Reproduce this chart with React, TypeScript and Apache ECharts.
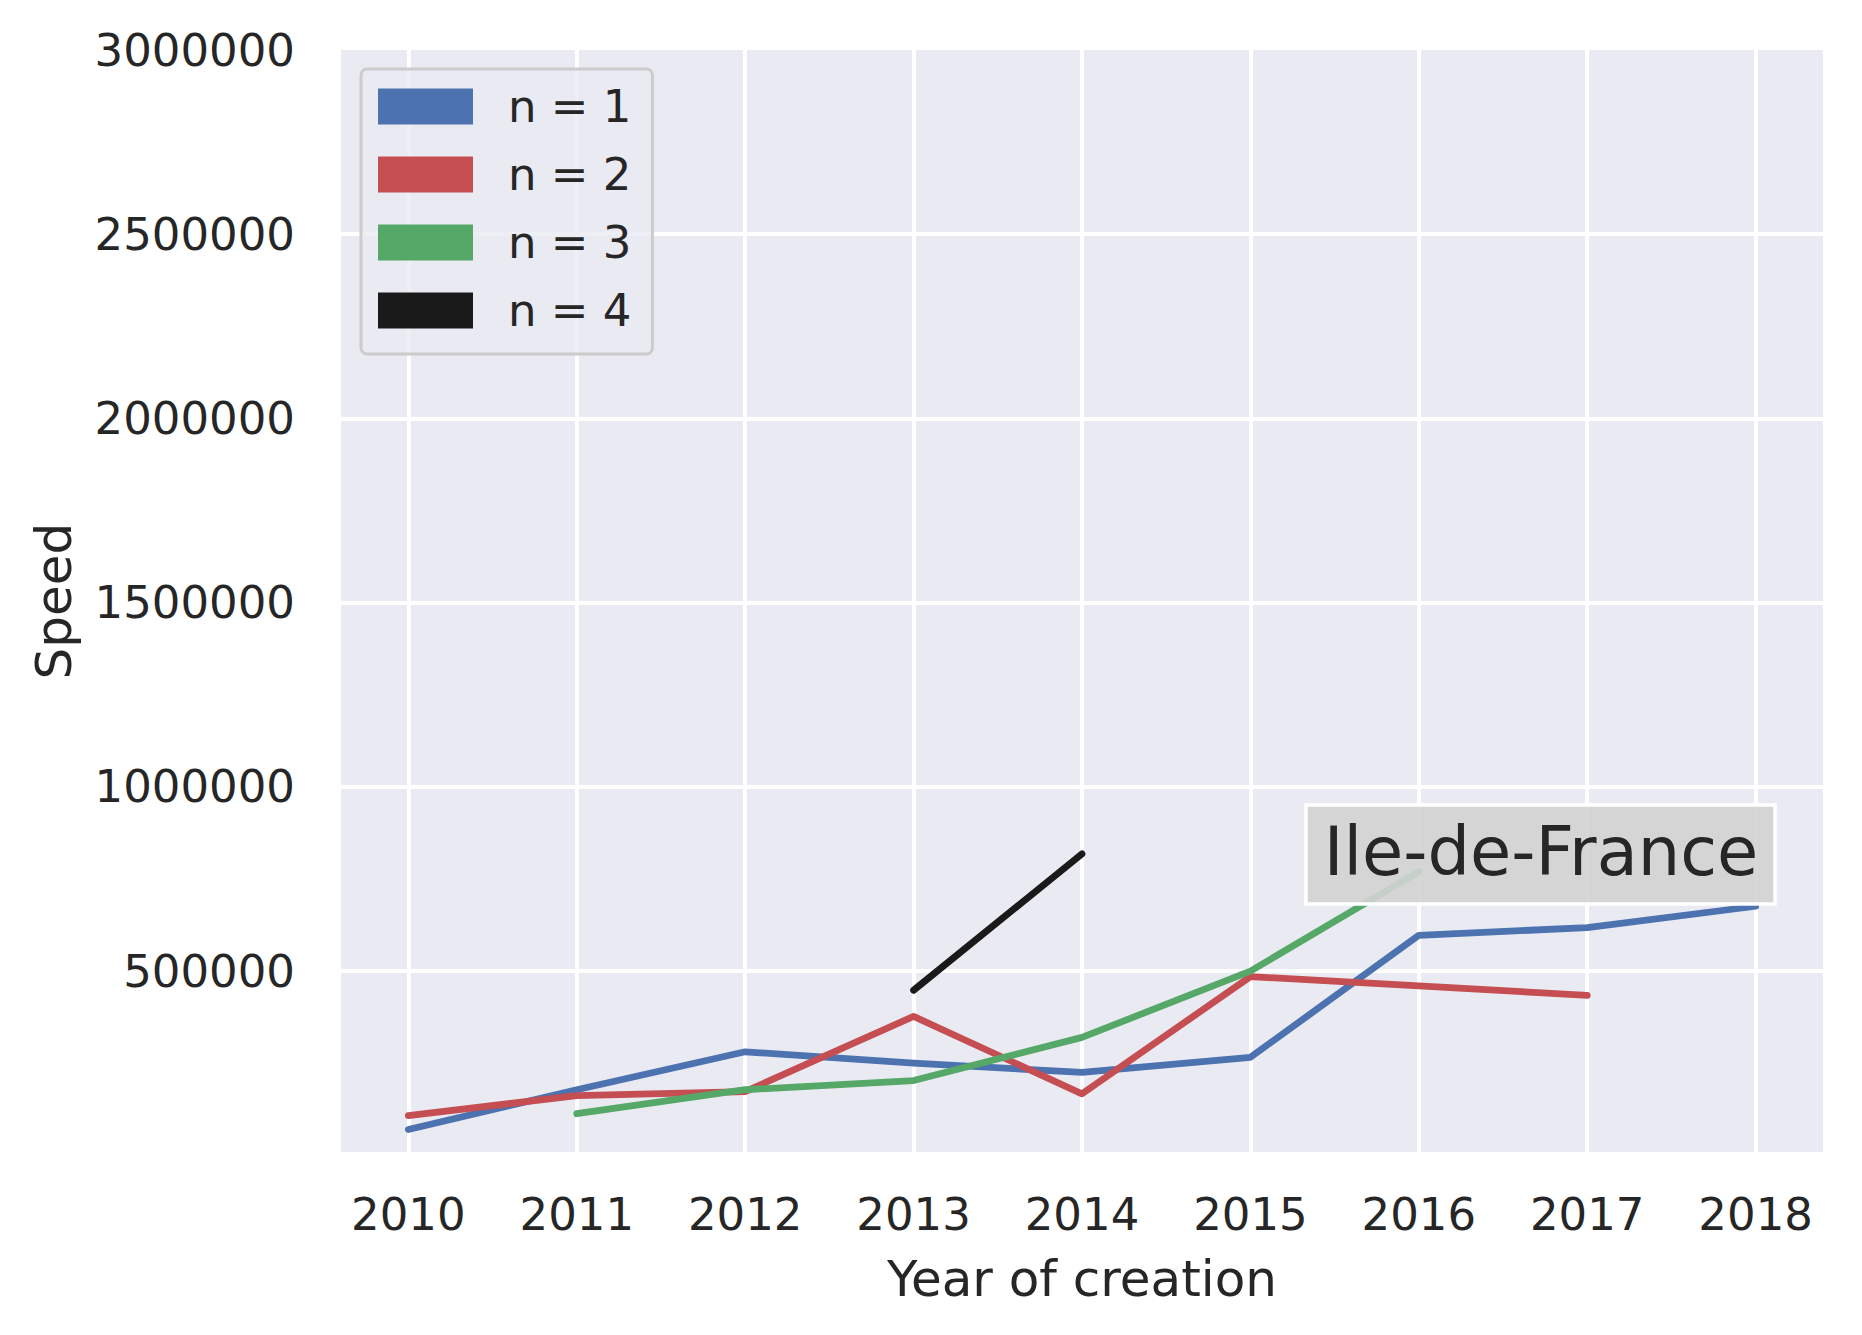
import React, { useEffect, useRef } from "react";
import * as echarts from "echarts";

const years = [2010, 2011, 2012, 2013, 2014, 2015, 2016, 2017, 2018];
const seriesNames = ["n = 1", "n = 2", "n = 3", "n = 4"];
const seriesColors = ["#4C72B0", "#C44E52", "#55A868", "#1A1A1A"];
const speedN1 = [70000, 178000, 281000, 250000, 225000, 266000, 597000, 618000, 676000];
const speedN2 = [108000, 162000, 173000, 377000, 167000, 485000, 460000, 434000, null];
const speedN3 = [null, 113000, 178000, 203000, 320000, 500000, 770000, null, null];
const speedN4 = [null, null, null, 448000, 818000, null, null, null, null];
const annotationText = "Ile-de-France";

const FONT = "DejaVu Sans";
const TEXT = "#262626";

export default function App() {
  const ref = useRef<HTMLDivElement>(null);
  useEffect(() => {
    if (!ref.current) return;
    const chart = echarts.init(ref.current, undefined, { renderer: "svg" });
    const all = [speedN1, speedN2, speedN3, speedN4];
    const series = all.map((vals, i) => ({
      name: seriesNames[i],
      type: "line",
      showSymbol: false,
      symbol: "none",
      color: seriesColors[i],
      itemStyle: { color: seriesColors[i] },
      lineStyle: { color: seriesColors[i], width: 6.8, cap: "round", join: "round" },
      data: years
        .map((y, j) => [y, vals[j]])
        .filter((p) => p[1] !== null),
      z: 2 + i,
    }));
    chart.setOption({
      animation: false,
      backgroundColor: "#ffffff",
      textStyle: { fontFamily: FONT },
      grid: {
        left: 341,
        right: 39,
        top: 50,
        bottom: 183,
        show: true,
        backgroundColor: "#EAEAF2",
        borderWidth: 0,
        containLabel: false,
        outerBoundsMode: "none",
      },
      legend: {
        data: seriesNames.map((n) => ({ name: n, icon: "rect" })),
        orient: "vertical",
        left: 361,
        top: 69,
        padding: [15, 21, 21, 17],
        itemWidth: 95,
        itemHeight: 36,
        itemGap: 23,
        backgroundColor: "rgba(234,234,242,0.8)",
        borderColor: "#cccccc",
        borderWidth: 3,
        borderRadius: 6,
        selectedMode: false,
        itemStyle: { borderWidth: 0 },
        textStyle: {
          fontSize: 45,
          lineHeight: 45,
          color: TEXT,
          fontFamily: FONT,
          padding: [0, 0, 0, 30],
        },
      },
      xAxis: {
        type: "value",
        min: 2009.6,
        max: 2018.4,
        minInterval: 1,
        maxInterval: 1,
        splitNumber: 9,
        axisLine: { show: false },
        axisTick: { show: false },
        axisLabel: {
          formatter: (v: number) => (Number.isInteger(v) ? String(v) : ""),
          fontSize: 45,
          color: TEXT,
          fontFamily: FONT,
          margin: 40,
        },
        splitLine: {
          show: true,
          showMinLine: false,
          showMaxLine: false,
          lineStyle: { color: "#ffffff", width: 4 },
        },
        name: "Year of creation",
        nameLocation: "middle",
        nameGap: 102,
        nameTextStyle: { fontSize: 50, color: TEXT, fontFamily: FONT },
      },
      yAxis: {
        type: "value",
        min: 9000,
        max: 3000000,
        minInterval: 500000,
        maxInterval: 500000,
        splitNumber: 6,
        axisLine: { show: false },
        axisTick: { show: false },
        axisLabel: {
          formatter: (v: number) => (v % 500000 === 0 ? String(v) : ""),
          fontSize: 45,
          color: TEXT,
          fontFamily: FONT,
          margin: 46,
        },
        splitLine: {
          show: true,
          showMinLine: false,
          showMaxLine: false,
          lineStyle: { color: "#ffffff", width: 4 },
        },
        name: "Speed",
        nameLocation: "middle",
        nameGap: 262,
        nameRotate: 90,
        nameTextStyle: { fontSize: 50, color: TEXT, fontFamily: FONT },
      },
      graphic: [
        {
          type: "group",
          z: 100,
          children: [
            {
              type: "rect",
              shape: { x: 1306, y: 805, width: 469, height: 99 },
              style: { fill: "rgba(211,211,211,0.9)", stroke: "#ffffff", lineWidth: 3.5 },
              z: 100,
            },
            {
              type: "text",
              x: 1541,
              y: 852,
              style: {
                text: annotationText,
                fontSize: 67,
                fontFamily: FONT,
                fill: TEXT,
                align: "center",
                verticalAlign: "middle",
              },
              z: 101,
            },
          ],
        },
      ],
      series,
    });
    return () => chart.dispose();
  }, []);
  return (
    <div
      ref={ref}
      style={{ position: "fixed", left: 0, top: 0, width: 1862, height: 1335 }}
    />
  );
}
